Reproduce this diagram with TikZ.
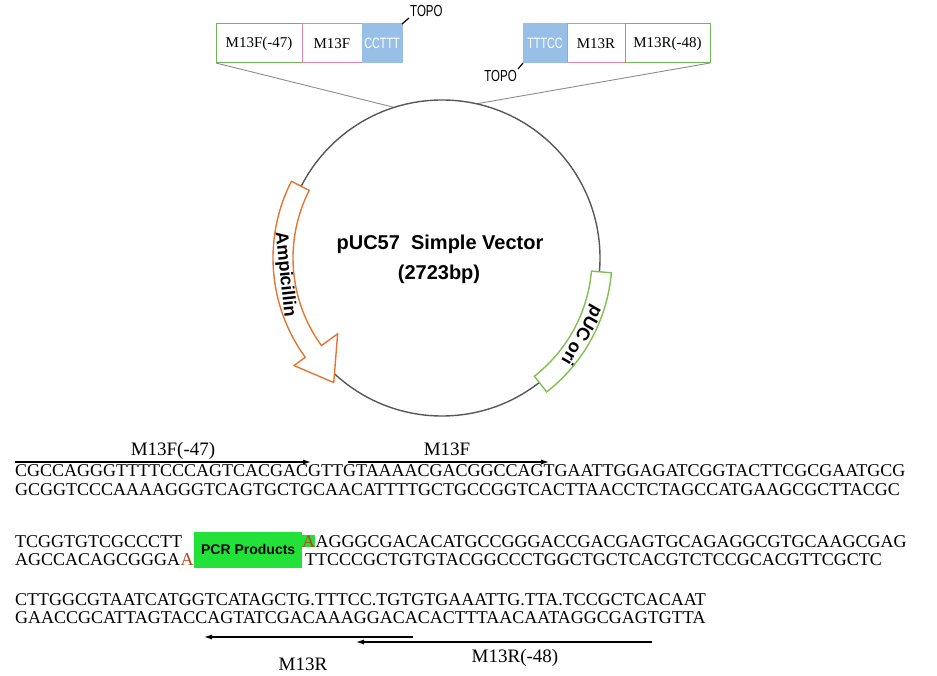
\documentclass[tikz,border=0pt]{standalone}
\usepackage{fontspec}
\setmainfont{Liberation Serif}
\setsansfont{Liberation Sans}
\usetikzlibrary{positioning,arrows.meta,calc}
\usepackage{xcolor}

\definecolor{ampOrange}{RGB}{228,118,52}
\definecolor{oriGreen}{RGB}{128,192,82}
\definecolor{tagGreen}{RGB}{112,182,84}
\definecolor{tagPink}{RGB}{226,136,166}
\definecolor{topoBlue}{RGB}{152,192,230}
\definecolor{pcrGreen}{RGB}{34,226,58}
\definecolor{redA}{RGB}{186,64,30}
\definecolor{ringGray}{RGB}{88,88,88}
\definecolor{guideGray}{RGB}{140,140,140}

\newcommand{\narrow}[1]{\scalebox{0.72}[1]{#1}}

\tikzset{
  tag/.style={draw, line width=1pt, outer sep=0pt, inner sep=0pt,
    minimum height=39pt, anchor=north west, font=\fontsize{15}{15}\selectfont},
  overhang/.style={tag, draw=topoBlue, fill=topoBlue, text=white,
    font=\sffamily\fontsize{15}{15}\selectfont},
  topo/.style={inner sep=1pt, font=\sffamily\fontsize{16}{16}\selectfont},
  seq/.style={anchor=base west, inner sep=0pt, font=\fontsize{18}{18}\selectfont},
  primer/.style={line width=1.8pt, -{Latex[length=9pt,width=5pt]}},
  primerlabel/.style={anchor=base, inner sep=0pt, font=\fontsize{19}{19}\selectfont},
  bandtext/.style={inner sep=0pt, font=\sffamily\bfseries\fontsize{18}{18}\selectfont},
}

\begin{document}
\begin{tikzpicture}[x=1pt, y=1pt]
        \useasboundingbox (0,0) rectangle (937,675);

        % Insert tags above the vector
        \node[tag, draw=tagGreen, minimum width=86pt] (f47) at (216,651) {M13F(-47)};
        \node[tag, draw=tagPink, minimum width=60pt, right=0pt of f47] (m13f) {M13F};
        \node[overhang, minimum width=40pt, right=0pt of m13f] (cc) {\narrow{CCTTT}};

        \node[overhang, minimum width=44pt] (tc) at (523,651) {\narrow{TTTCC}};
        \node[tag, draw=tagPink, minimum width=58pt, right=0pt of tc] (m13r) {M13R};
        \node[tag, draw=tagGreen, minimum width=85pt, right=0pt of m13r] (r48) {M13R(-48)};

        % TOPO labels
        \node[topo, anchor=south west] (topoL) at (409,657) {\narrow{TOPO}};
        \node[topo, anchor=north east] (topoR) at (518,606) {\narrow{TOPO}};
        \draw[line width=1.2pt] (cc.north east) -- (topoL.south west);
        \draw[line width=1.2pt] (tc.south west) -- (topoR.north east);

        % Vector circle
        \coordinate (C) at (442,417);
        \coordinate (cl) at ([shift={(107.6:158pt)}]C);
        \coordinate (cr) at ([shift={(77.4:158pt)}]C);
        \draw[guideGray, line width=0.9pt] (f47.south west) -- (cl);
        \draw[guideGray, line width=0.9pt] (r48.south east) -- (cr);
        \draw[ringGray, line width=1.4pt] (C) circle (158pt);

        % Ampicillin arrow
        \draw[ampOrange, line width=1.4pt, fill=white, line join=round]
          ([shift={(153:169pt)}]C) arc[start angle=153, end angle=216, radius=169pt]
          -- ([shift={(216:183pt)}]C) -- ([shift={(229:165pt)}]C)
          -- ([shift={(216:129pt)}]C) -- ([shift={(216:149pt)}]C)
          arc[start angle=216, end angle=153, radius=149pt] -- cycle;
        \node[bandtext, rotate=-84] (amp) at ([shift={(186:158pt)}]C) {Ampicillin};

        % pUC ori box
        \draw[oriGreen, line width=1.4pt, fill=white]
          ([shift={(-5:170pt)}]C) arc[start angle=-5, end angle=-52, radius=170pt]
          -- ([shift={(-52:150pt)}]C) arc[start angle=-52, end angle=-5, radius=150pt]
          -- cycle;
        \node[bandtext, rotate=-120] (ori) at ([shift={(-29:159pt)}]C) {pUC ori};

        % Vector name
        \node[anchor=base, inner sep=0pt, font=\sffamily\bfseries\fontsize{20}{20}\selectfont]
          (name) at (440,425) {pUC57~~Simple Vector};
        \node[anchor=base, inner sep=0pt, font=\sffamily\bfseries\fontsize{20}{20}\selectfont]
          (size) at (439,395) {(2723bp)};

        % Forward primers
        \coordinate (f47a) at (15,213);
        \coordinate (f47b) at (312,213);
        \coordinate (fa) at (348,213);
        \coordinate (fb) at (550,213);
        \draw[primer] (f47a) -- (f47b);
        \draw[primer] (fa) -- (fb);
        \node[primerlabel] (lf47) at (173,219) {M13F(-47)};
        \node[primerlabel] (lf) at (447,219) {M13F};

        % Sequence, rows 1 and 2
        \node[seq] (r1) at (15,198) {CGCCAGGGTTTTCCCAGTCACGACGTTGTAAAACGACGGCCAGTGAATTGGAGATCGGTACTTCGCGAATGCG};
        \node[seq] (r2) at (15,179) {GCGGTCCCAAAAGGGTCAGTGCTGCAACATTTTGCTGCCGGTCACTTAACCTCTAGCCATGAAGCGCTTACGC};

        % Sequence, rows 3 and 4 with the insert
        \node[fill=pcrGreen, minimum width=108pt, minimum height=36pt, inner sep=0pt,
              anchor=south west, font=\sffamily\bfseries\fontsize{14}{14}\selectfont]
          (pcr) at (194,107) {PCR Products};
        \node[seq] (r3a) at (15,128) {TCGGTGTCGCCCTT};
        \node[seq, text=redA, fill=pcrGreen] (a3) at (302,128) {A};
        \node[seq] (r3b) at (a3.base east) {AGGGCGACACATGCCGGGACCGACGAGTGCAGAGGCGTGCAAGCGAG};
        \node[seq] (r4a) at (15,110) {AGCCACAGCGGGA};
        \node[seq, text=redA] (a4) at (r4a.base east) {A};
        \node[seq] (r4b) at (305,110) {TTCCCGCTGTGTACGGCCCTGGCTGCTCACGTCTCCGCACGTTCGCTC};

        % Sequence, rows 5 and 6
        \node[seq] (r5) at (15,70) {CTTGGCGTAATCATGGTCATAGCTG.TTTCC.TGTGTGAAATTG.TTA.TCCGCTCACAAT};
        \node[seq] (r6) at (15,52) {GAACCGCATTAGTACCAGTATCGACAAAGGACACACTTTAACAATAGGCGAGTGTTA};

        % Reverse primers
        \coordinate (ra) at (413,38);
        \coordinate (rb) at (203,38);
        \coordinate (r48a) at (652,33);
        \coordinate (r48b) at (355,33);
        \draw[primer] (ra) -- (rb);
        \draw[primer] (r48a) -- (r48b);
        \node[primerlabel] (lr) at (303,5) {M13R};
        \node[primerlabel] (lr48) at (515,13) {M13R(-48)};
    \end{tikzpicture}
\end{document}
